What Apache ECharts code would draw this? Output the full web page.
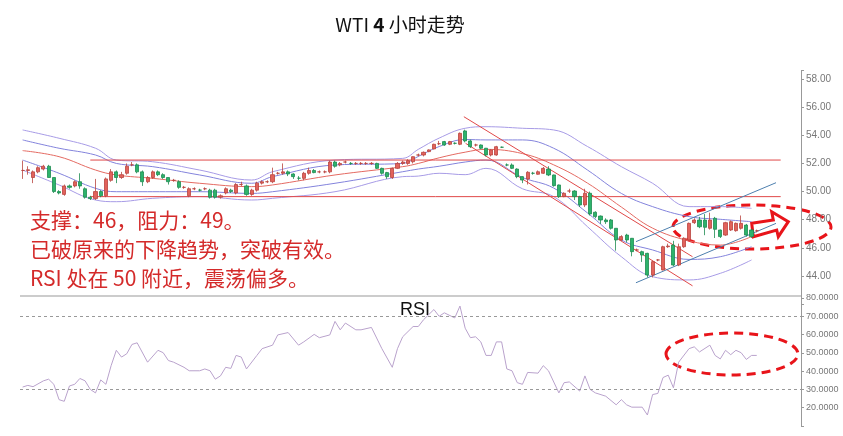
<!DOCTYPE html>
<html><head><meta charset="utf-8">
<script src="https://cdn.jsdelivr.net/npm/echarts@6/dist/echarts.min.js"></script>
<style>html,body{margin:0;padding:0;background:#fff}#c{width:843px;height:436px}</style>
</head><body><div id="c"></div>
<script>
const opens=[51.5,51.5,51.0,51.4,51.6,51.8,51.0,50.0,49.8,50.4,50.4,50.7,50.2,49.6,49.5,50.0,49.7,50.8,51.4,51.0,51.3,51.9,51.9,51.4,50.7,51.0,51.4,51.2,51.0,50.8,50.7,50.3,49.7,50.2,50.1,50.2,50.1,50.1,49.6,49.9,50.1,49.9,50.5,50.4,49.8,50.1,50.6,50.7,50.7,51.3,51.3,51.4,51.25,50.95,50.94,51.3,51.5,51.4,51.4,51.4,52.1,51.9,52.1,52.0,52.0,52.0,52.0,52.0,52.0,51.65,51.35,51.0,51.65,52.0,52.0,52.12,52.6,52.6,52.84,53.03,53.4,53.55,53.36,53.43,53.36,54.31,53.6,53.31,53.31,53.08,52.6,52.6,53.15,51.89,51.89,51.6,51.06,50.89,51.3,51.23,51.3,51.6,51.18,50.47,49.64,50.04,50.04,49.64,49.05,49.88,48.53,48.26,47.98,47.98,47.39,46.56,46.91,46.68,45.85,45.73,45.61,44.07,45.14,44.43,46.08,46.2,44.78,46.08,46.56,47.79,47.98,47.98,47.39,48.10,47.27,46.91,47.27,47.22,47.39,47.62,47.27,47.22];
const closes=[51.5,51.55,51.4,51.7,51.8,51.0,50.0,49.9,50.4,50.3,50.7,50.4,49.6,49.5,50.0,49.7,50.9,51.4,51.0,51.2,51.8,51.9,51.4,50.7,51.0,51.4,51.2,51.0,50.7,50.8,50.3,50.3,50.2,50.2,50.1,50.2,49.6,49.6,49.7,50.2,50.0,50.5,50.5,49.8,50.1,50.6,50.7,50.7,51.2,51.3,51.4,51.25,51.06,50.95,51.3,51.5,51.35,51.4,51.4,52.1,51.8,52.0,52.1,52.0,52.0,52.0,52.0,52.0,51.65,51.3,51.06,51.65,52.0,52.1,52.2,52.48,52.6,52.79,52.96,53.36,53.4,53.31,53.55,53.43,54.14,53.6,53.19,53.31,53.08,52.6,52.96,53.19,53.15,51.89,51.65,51.06,50.82,51.37,51.3,51.41,51.65,51.18,50.42,49.64,49.88,50.04,49.64,49.05,49.88,48.41,48.22,47.98,47.86,47.39,46.56,46.8,46.56,45.73,45.85,45.49,44.07,45.02,45.14,46.08,46.13,44.78,46.08,46.68,47.74,47.98,47.5,47.46,47.98,47.32,46.8,47.79,47.86,47.74,47.74,46.91,46.8,47.22];
const highs=[52.2,51.8,51.5,51.8,51.9,51.9,51.0,50.1,50.5,50.5,50.8,51.3,50.3,49.7,50.9,50.1,51.0,51.6,51.5,51.4,52.0,52.1,52.0,51.5,51.1,51.5,51.5,51.3,51.0,50.9,50.8,50.4,50.3,50.3,50.2,50.3,50.2,50.2,49.8,50.3,50.2,50.6,50.7,50.5,50.2,50.7,50.8,50.8,51.7,51.4,52.0,51.5,51.3,51.1,51.4,51.7,51.6,51.5,51.5,52.2,52.2,52.1,52.2,52.1,52.1,52.1,52.1,52.1,52.05,51.7,51.4,51.7,52.1,52.2,52.3,52.5,52.7,52.85,53.0,53.4,53.6,53.6,53.6,53.5,54.2,54.4,53.7,53.4,53.35,53.1,53.0,53.25,53.2,52.0,52.0,51.65,51.1,51.45,51.4,51.5,51.75,51.8,51.2,50.5,49.95,50.2,50.1,49.7,50.2,50.0,48.6,48.3,48.1,48.05,47.4,46.9,47.0,46.7,45.95,45.8,45.65,45.1,45.2,46.15,46.3,46.5,46.3,46.75,47.8,48.1,48.2,48.4,48.5,48.2,47.3,47.85,47.95,47.8,48.3,47.7,47.35,47.3];
const lows=[50.9,51.2,50.6,51.3,51.5,51.0,49.9,49.8,49.7,50.2,50.3,50.2,49.5,49.4,49.4,49.6,49.6,50.7,50.6,50.9,51.2,51.8,51.3,50.4,50.6,50.9,51.1,50.9,50.5,50.7,50.2,50.2,49.6,50.1,50.0,50.1,49.5,49.5,49.5,49.8,49.9,49.8,50.4,49.7,49.7,50.0,50.5,50.6,50.6,51.2,51.2,51.1,50.9,50.8,50.8,51.2,51.3,51.3,51.3,51.3,51.7,51.8,52.0,51.9,51.9,51.9,51.9,51.9,51.6,51.2,50.9,50.9,51.6,51.9,51.9,52.0,52.5,52.5,52.8,53.0,53.3,53.25,53.3,53.35,53.3,53.5,53.1,53.2,53.0,52.5,52.5,52.55,53.1,51.8,51.6,50.95,50.6,50.5,51.2,51.2,51.25,51.1,50.35,49.55,49.6,49.9,49.4,48.9,48.9,48.3,48.1,47.7,47.7,47.3,45.8,46.5,46.4,45.4,45.75,45.0,43.9,43.9,45.05,44.4,46.0,44.7,44.7,46.0,46.5,47.7,47.4,46.9,47.3,46.7,46.7,46.85,47.2,47.15,47.3,46.8,46.7,47.1];
const categories=Array.from({length:150},(_,i)=>String(i));
const bandIdx=[0,7,14,18,25,34,44,48,60,73,76,80,85,89,96,102,108.5,115,121,128,134,140];
const upper2=[54.38,53.79,53.08,52.24,52.12,51.53,50.82,51.41,52.24,52.36,53.0,53.8,54.5,54.61,54.5,54.38,53.2,51.77,50.59,48.93,48.93,48.81];
const upper1=[53.67,53.08,52.6,52.0,51.77,51.18,50.59,51.06,51.89,52.0,52.5,53.2,53.7,53.67,53.67,53.08,51.53,49.87,48.93,48.22,48.03,47.86];
const middle=[52.91,52.48,51.53,51.18,50.94,50.59,50.35,50.47,51.18,51.77,52.0,52.4,52.8,53.0,52.7,51.9,50.6,48.9,47.4,46.5,46.2,46.8];
const lower1=[52.24,51.3,50.23,49.99,49.99,49.99,49.87,49.99,50.59,51.41,51.6,51.8,52.1,52.24,51.0,50.25,48.48,46.56,45.85,45.18,45.37,46.08];
const lower2=[51.53,50.47,49.4,49.28,49.52,49.64,49.4,49.52,49.99,51.06,51.1,51.3,51.2,51.65,50.2,49.64,47.5,45.37,43.95,43.72,44.19,45.14];
const rsiIdx=[0,1,2,4,5,6,7,8,9,10,11,12,13,14,15,16,17,18,19,20,21,22,24,26,27,28,29,31,32,34,35,36,37,38,39,40,41,42,43,45,46,48,49,51,53,54,56,57,59,60,61,62,64,65,67,69,71,72,73,75,76,77,79,80,81,83,84,85,86,87,88,89,90,91,92,93,94,95,96,97,99,100,101,103,104,105,107,108,109,110,112,114,115,116,117,119,120,121,122,123,124,125,126,128,129,130,132,133,134,135,136,137,138,139,140,141];
const rsiVal=[31.3,32.2,31.5,34.7,35.6,32.8,24.4,23.5,31.9,32.8,36.0,34.7,30.0,28.1,35.2,32.8,43.0,51.4,47.7,49.5,54.6,55.5,44.9,51.4,50.1,45.8,44.9,42.1,40.2,40.2,41.2,40.2,35.6,37.4,42.1,41.5,48.6,47.7,41.2,48.6,52.3,54.2,59.8,61.1,54.2,56.0,60.1,58.3,59.8,67.2,62.6,66.3,62.6,62.6,63.9,52.3,42.1,52.3,58.8,64.4,64.4,68.1,73.7,70.0,71.9,69.1,75.6,63.5,58.3,58.8,56.0,48.6,48.6,56.0,56.0,41.2,40.2,33.7,32.8,39.3,38.9,43.0,40.2,28.1,33.7,34.1,29.1,37.4,30.0,28.1,26.3,21.6,24.4,21.6,20.3,20.3,16.0,27.2,27.8,36.5,37.8,30.9,44.9,52.3,53.3,50.5,54.2,48.6,46.7,51.4,49.0,51.4,50.1,46.4,48.6,48.6];
const hLevels=[52.24,49.64];
const redChannel=[[[84.75,55.32],[128.67,45.37]],[[85.08,53.43],[128.67,43.3]]];
const blueChannel=[[[117.8,43.52],[144.7,47.74]],[[117.8,46.44],[144.7,50.63]]];

const zip=(a,b)=>a.map((v,i)=>[v,b[i]]);
const ohlc=opens.map((o,i)=>[o,closes[i],lows[i],highs[i]]);
const lineS=(data,color,x)=>({type:'line',xAxisIndex:x,yAxisIndex:0,data,showSymbol:false,smooth:0.4,lineStyle:{color,width:1},silent:true,z:1});
const chart=echarts.init(document.getElementById('c'));
const series=[
 lineS(zip(bandIdx,upper2),'#a79be6',1),
 lineS(zip(bandIdx,upper1),'#8383dc',1),
 lineS(zip(bandIdx,middle),'#e46a62',1),
 lineS(zip(bandIdx,lower1),'#8383dc',1),
 lineS(zip(bandIdx,lower2),'#a79be6',1),
 {type:'candlestick',xAxisIndex:0,yAxisIndex:0,data:ohlc,barWidth:3.6,z:3,
  itemStyle:{color:'#e2625c',color0:'#2db36c',borderColor:'#b9443f',borderColor0:'#1e8c51',borderWidth:0.8}},
];
hLevels.forEach(v=>series.push({type:'line',xAxisIndex:1,yAxisIndex:0,data:[[13,v],[145.6,v]],showSymbol:false,lineStyle:{color:'#e04848',width:1},z:2}));
redChannel.forEach(d=>series.push({type:'line',xAxisIndex:1,yAxisIndex:0,data:d,showSymbol:false,lineStyle:{color:'#e04848',width:1},z:2}));
blueChannel.forEach(d=>series.push({type:'line',xAxisIndex:1,yAxisIndex:0,data:d,showSymbol:false,lineStyle:{color:'#4d7fae',width:1},z:2}));
series.push({type:'line',xAxisIndex:2,yAxisIndex:1,data:zip(rsiIdx,rsiVal),showSymbol:false,lineStyle:{color:'#b9a2cc',width:1},
  markLine:{silent:true,symbol:'none',label:{show:false},lineStyle:{color:'#999',type:[3,3],width:1},data:[{yAxis:70},{yAxis:30}]}});

const yAx=(grid,min,max,interval,fmt)=>({type:'value',gridIndex:grid,position:'right',min,max,interval,
  axisLine:{show:true,onZero:false,lineStyle:{color:'#999'}},axisTick:{show:true,length:3,lineStyle:{color:'#999'}},
  splitLine:{show:false},axisLabel:{color:'#777',fontSize:grid?9:10,margin:5,fontFamily:'Liberation Sans',formatter:fmt}});
const hiddenX={show:false,axisLine:{show:false},axisTick:{show:false},splitLine:{show:false}};
chart.setOption({
 animation:false,
 grid:[{left:20,width:781,top:70.56,height:233.58},{left:20,width:781,top:298,height:128}],
 xAxis:[
  Object.assign({type:'category',gridIndex:0,data:categories,boundaryGap:true},hiddenX),
  Object.assign({type:'value',gridIndex:0,min:-0.5,max:149.5},hiddenX),
  Object.assign({type:'value',gridIndex:1,min:-0.5,max:149.5},hiddenX)],
 yAxis:[yAx(0,42,58.6,2,v=>(v>=44&&v<=58&&v%2===0)?v.toFixed(2):''),
        yAx(1,10,80,10,v=>v>=20?v.toFixed(4):'')],
 series,
 graphic:{z:100,elements:[
  {type:'rect',shape:{x:0,y:140,width:20.6,height:296},style:{fill:'#fff'}},
  {type:'line',shape:{x1:20,y1:296,x2:801,y2:296},style:{stroke:'#999',lineWidth:1.2}},
  {type:'text',x:400,y:25,style:{text:'{a|WTI }{b|4}{a| 小时走势}',align:'center',verticalAlign:'middle',
    rich:{a:{fontSize:19,fontFamily:'Noto Sans CJK SC',fill:'#111'},b:{fontSize:19,fontWeight:'bold',fontFamily:'Noto Sans CJK SC',fill:'#111'}}}},
  {type:'text',x:30,y:220,style:{text:'支撑：46，阻力：49。',fontSize:21,fontFamily:'Noto Sans CJK SC',fill:'#d42a2a',verticalAlign:'middle'}},
  {type:'text',x:30,y:249,style:{text:'已破原来的下降趋势，突破有效。',fontSize:21,fontFamily:'Noto Sans CJK SC',fill:'#d42a2a',verticalAlign:'middle'}},
  {type:'text',x:30,y:278,style:{text:'RSI 处在 50 附近，震荡偏多。',fontSize:21,fontFamily:'Noto Sans CJK SC',fill:'#d42a2a',verticalAlign:'middle'}},
  {type:'text',x:415,y:310,style:{text:'RSI',fontSize:18,fontFamily:'Liberation Sans',fill:'#111',align:'center',verticalAlign:'middle'}},
  {type:'ellipse',shape:{cx:752,cy:227,rx:79,ry:22},style:{fill:null,stroke:'#e8141a',lineWidth:3,lineDash:[9,6]}},
  {type:'ellipse',shape:{cx:732,cy:354,rx:66,ry:21},style:{fill:null,stroke:'#e8141a',lineWidth:3,lineDash:[9,6]}},
  {type:'polygon',shape:{points:[[751.7,223.3],[773.3,220],[771.7,211.7],[788.3,221.7],[778.3,236.7],[776.7,230],[753.3,236.7]]},
    style:{fill:'#fff',stroke:'#e8141a',lineWidth:3}}
 ]}
});
</script></body></html>
